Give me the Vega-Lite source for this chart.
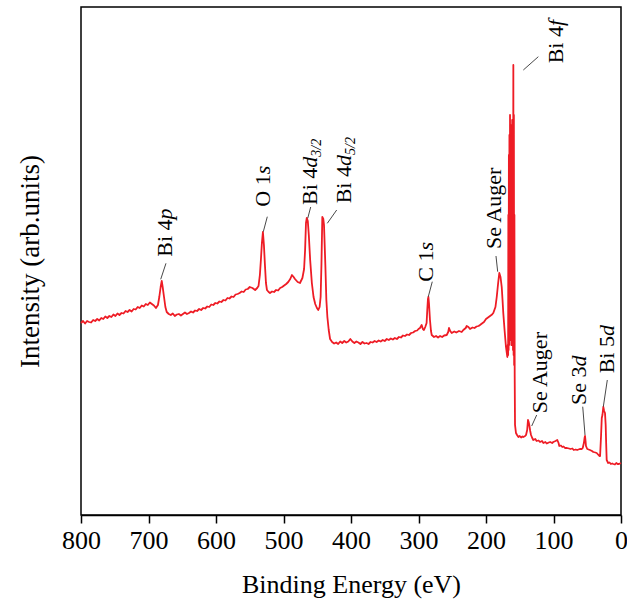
{
  "$schema": "https://vega.github.io/schema/vega-lite/v6.json",
  "width": 540,
  "height": 508,
  "autosize": {"type": "none"},
  "padding": {"left": 81, "top": 7, "right": 6, "bottom": 99},
  "background": "white",
  "config": {
    "view": {"stroke": "black", "strokeWidth": 1.5},
    "font": "Liberation Serif"
  },
  "datasets": {
    "spectrum": [
      {"E": 800, "I": 192}, {"E": 797, "I": 194}, {"E": 794, "I": 191.5}, {"E": 791, "I": 194}, {"E": 788, "I": 193},
      {"E": 785, "I": 192.5}, {"E": 782, "I": 195}, {"E": 779, "I": 194}, {"E": 776, "I": 196}, {"E": 773, "I": 194.5},
      {"E": 770, "I": 197}, {"E": 767, "I": 196}, {"E": 764, "I": 198.5}, {"E": 761, "I": 197}, {"E": 758, "I": 199},
      {"E": 755, "I": 198}, {"E": 752, "I": 200.5}, {"E": 749, "I": 199}, {"E": 746, "I": 201.5}, {"E": 743, "I": 200},
      {"E": 740, "I": 202}, {"E": 737, "I": 201.5}, {"E": 734, "I": 204}, {"E": 731, "I": 203}, {"E": 728, "I": 205},
      {"E": 725, "I": 203.5}, {"E": 722, "I": 206}, {"E": 719, "I": 205.5}, {"E": 716, "I": 208}, {"E": 713, "I": 207},
      {"E": 710, "I": 209.5}, {"E": 707, "I": 208.5}, {"E": 704, "I": 211}, {"E": 701, "I": 210}, {"E": 698, "I": 212.5},
      {"E": 695, "I": 211}, {"E": 692, "I": 209.5}, {"E": 689, "I": 207}, {"E": 686, "I": 210},
      {"E": 684, "I": 218}, {"E": 682, "I": 228}, {"E": 680.4, "I": 234}, {"E": 679, "I": 228}, {"E": 677, "I": 218},
      {"E": 675, "I": 208}, {"E": 673, "I": 203}, {"E": 670, "I": 201}, {"E": 667, "I": 200}, {"E": 664, "I": 201.5},
      {"E": 661, "I": 199}, {"E": 658, "I": 200.5}, {"E": 655, "I": 201}, {"E": 652, "I": 199.5}, {"E": 649, "I": 201},
      {"E": 646, "I": 202.5}, {"E": 643, "I": 201}, {"E": 640, "I": 202}, {"E": 637, "I": 203.5}, {"E": 634, "I": 202.5},
      {"E": 631, "I": 204.5}, {"E": 628, "I": 204}, {"E": 625, "I": 206}, {"E": 622, "I": 205}, {"E": 619, "I": 207},
      {"E": 616, "I": 206.5}, {"E": 613, "I": 208.5}, {"E": 610, "I": 208}, {"E": 607, "I": 210.5}, {"E": 604, "I": 210},
      {"E": 601, "I": 212}, {"E": 598, "I": 211.5}, {"E": 595, "I": 213.5}, {"E": 592, "I": 213}, {"E": 589, "I": 215},
      {"E": 586, "I": 214.5}, {"E": 583, "I": 217}, {"E": 580, "I": 216.5}, {"E": 577, "I": 218.5}, {"E": 574, "I": 218},
      {"E": 571, "I": 220.5}, {"E": 568, "I": 221}, {"E": 565, "I": 222}, {"E": 562, "I": 223.5}, {"E": 559, "I": 223},
      {"E": 556, "I": 225.5}, {"E": 553, "I": 226}, {"E": 550, "I": 228}, {"E": 546, "I": 227}, {"E": 542, "I": 225},
      {"E": 539, "I": 227}, {"E": 537, "I": 229}, {"E": 535, "I": 240}, {"E": 533.5, "I": 255}, {"E": 532, "I": 272},
      {"E": 530.5, "I": 283}, {"E": 529, "I": 270}, {"E": 527.5, "I": 250}, {"E": 526, "I": 232}, {"E": 524.5, "I": 225},
      {"E": 522, "I": 223}, {"E": 520, "I": 222}, {"E": 517, "I": 223.5}, {"E": 514, "I": 223}, {"E": 511, "I": 225},
      {"E": 508, "I": 224.5}, {"E": 505, "I": 227}, {"E": 502, "I": 228}, {"E": 499, "I": 229.5}, {"E": 496, "I": 231},
      {"E": 493, "I": 233}, {"E": 490, "I": 236}, {"E": 487.5, "I": 240}, {"E": 485, "I": 238},
      {"E": 483, "I": 236}, {"E": 479, "I": 233}, {"E": 475.6, "I": 232}, {"E": 472, "I": 237}, {"E": 469.5, "I": 246},
      {"E": 468, "I": 265}, {"E": 466.7, "I": 292}, {"E": 465.5, "I": 297}, {"E": 464, "I": 294}, {"E": 462.5, "I": 280},
      {"E": 460.5, "I": 255}, {"E": 458, "I": 232}, {"E": 455.5, "I": 218}, {"E": 453, "I": 211}, {"E": 450.5, "I": 207},
      {"E": 448.5, "I": 205}, {"E": 446.5, "I": 208}, {"E": 445, "I": 218}, {"E": 443.8, "I": 250}, {"E": 442.5, "I": 298},
      {"E": 441, "I": 296}, {"E": 440, "I": 290}, {"E": 439, "I": 270}, {"E": 438, "I": 250}, {"E": 436.5, "I": 215},
      {"E": 435, "I": 198}, {"E": 433, "I": 185}, {"E": 431, "I": 176}, {"E": 428, "I": 173}, {"E": 425, "I": 171.5},
      {"E": 422, "I": 172.5}, {"E": 419, "I": 171}, {"E": 416, "I": 173.5}, {"E": 413, "I": 172}, {"E": 410, "I": 174},
      {"E": 407, "I": 172.5}, {"E": 404, "I": 173.5}, {"E": 401, "I": 176}, {"E": 398, "I": 173.5}, {"E": 395, "I": 172},
      {"E": 392, "I": 173.5}, {"E": 389, "I": 172.5}, {"E": 386, "I": 171}, {"E": 383, "I": 173}, {"E": 380, "I": 171.5},
      {"E": 377, "I": 172}, {"E": 374, "I": 171}, {"E": 371, "I": 173}, {"E": 368, "I": 172.5}, {"E": 365, "I": 174},
      {"E": 362, "I": 173}, {"E": 359, "I": 174.5}, {"E": 356, "I": 173.5}, {"E": 353, "I": 175}, {"E": 350, "I": 174},
      {"E": 347, "I": 176}, {"E": 344, "I": 175}, {"E": 341, "I": 176.5}, {"E": 338, "I": 175.5}, {"E": 335, "I": 177},
      {"E": 332, "I": 176}, {"E": 329, "I": 178}, {"E": 326, "I": 177.5}, {"E": 323, "I": 179.5}, {"E": 320, "I": 179},
      {"E": 317, "I": 180.5}, {"E": 314, "I": 180}, {"E": 311, "I": 182}, {"E": 308, "I": 182.5}, {"E": 305, "I": 184},
      {"E": 302, "I": 184.5}, {"E": 300, "I": 186}, {"E": 297.8, "I": 187},
      {"E": 295.3, "I": 190}, {"E": 293.5, "I": 186}, {"E": 291.9, "I": 185}, {"E": 290, "I": 188}, {"E": 288, "I": 192},
      {"E": 287, "I": 205}, {"E": 286, "I": 216}, {"E": 285.3, "I": 218}, {"E": 284.5, "I": 212}, {"E": 283, "I": 195},
      {"E": 281.5, "I": 184}, {"E": 280.4, "I": 180}, {"E": 277, "I": 178}, {"E": 274, "I": 179}, {"E": 271, "I": 177.5},
      {"E": 268, "I": 179}, {"E": 265, "I": 178}, {"E": 262, "I": 179.5}, {"E": 258.2, "I": 180}, {"E": 256, "I": 183},
      {"E": 254.8, "I": 187}, {"E": 253, "I": 184},
      {"E": 250.8, "I": 182}, {"E": 247, "I": 183.5}, {"E": 244, "I": 182.5}, {"E": 240, "I": 184}, {"E": 236, "I": 183},
      {"E": 233.6, "I": 185}, {"E": 230, "I": 187}, {"E": 228.6, "I": 189}, {"E": 226, "I": 188}, {"E": 223.7, "I": 186},
      {"E": 220, "I": 187.5}, {"E": 217, "I": 187}, {"E": 214, "I": 188.5}, {"E": 211, "I": 189}, {"E": 208.9, "I": 190},
      {"E": 206, "I": 191.5}, {"E": 203, "I": 193}, {"E": 200, "I": 196}, {"E": 197, "I": 197.5}, {"E": 194, "I": 199},
      {"E": 191, "I": 200.5},
      {"E": 189.2, "I": 202}, {"E": 186, "I": 208}, {"E": 184.1, "I": 218}, {"E": 182, "I": 232}, {"E": 180.3, "I": 242},
      {"E": 178.5, "I": 238}, {"E": 176.7, "I": 228}, {"E": 175.5, "I": 215}, {"E": 174.4, "I": 202}, {"E": 172.5, "I": 185},
      {"E": 170.4, "I": 168}, {"E": 168.4, "I": 158}, {"E": 167.8, "I": 170}, {"E": 167.2, "I": 160}, {"E": 166.9, "I": 300},
      {"E": 166.5, "I": 165}, {"E": 166.1, "I": 360}, {"E": 165.7, "I": 170}, {"E": 165.3, "I": 380}, {"E": 164.9, "I": 175},
      {"E": 164.4, "I": 400}, {"E": 164.0, "I": 180}, {"E": 163.6, "I": 390}, {"E": 163.2, "I": 175}, {"E": 162.8, "I": 385},
      {"E": 162.4, "I": 170}, {"E": 162.0, "I": 390}, {"E": 161.6, "I": 175}, {"E": 161.2, "I": 395}, {"E": 160.8, "I": 170},
      {"E": 160.4, "I": 390}, {"E": 160.0, "I": 165}, {"E": 159.5, "I": 450}, {"E": 159.1, "I": 160}, {"E": 158.7, "I": 400},
      {"E": 158.3, "I": 150}, {"E": 157.9, "I": 300}, {"E": 157.5, "I": 140}, {"E": 157.0, "I": 90}, {"E": 155.6, "I": 82},
      {"E": 154, "I": 80}, {"E": 152, "I": 78}, {"E": 150, "I": 79}, {"E": 148, "I": 77.5}, {"E": 146, "I": 78.5},
      {"E": 144.7, "I": 78}, {"E": 142, "I": 79},
      {"E": 140.7, "I": 80}, {"E": 139, "I": 85}, {"E": 137.8, "I": 95}, {"E": 136.8, "I": 93}, {"E": 135.9, "I": 90},
      {"E": 134.5, "I": 84}, {"E": 133.3, "I": 80}, {"E": 131.5, "I": 77}, {"E": 129.9, "I": 75}, {"E": 127, "I": 76},
      {"E": 125, "I": 74}, {"E": 122, "I": 74.5}, {"E": 120, "I": 73}, {"E": 117, "I": 74}, {"E": 115, "I": 72},
      {"E": 112, "I": 73}, {"E": 110, "I": 71.5}, {"E": 107, "I": 72.5}, {"E": 105, "I": 73}, {"E": 102, "I": 72},
      {"E": 100.3, "I": 73},
      {"E": 97, "I": 74}, {"E": 94.4, "I": 75}, {"E": 92.5, "I": 72}, {"E": 91.4, "I": 69}, {"E": 89, "I": 69.5},
      {"E": 87, "I": 68}, {"E": 85, "I": 68.5},
      {"E": 83, "I": 67}, {"E": 80, "I": 67}, {"E": 77, "I": 66.5}, {"E": 75, "I": 66}, {"E": 72, "I": 66.5},
      {"E": 70, "I": 65}, {"E": 67, "I": 65.5}, {"E": 65, "I": 65},
      {"E": 61, "I": 66}, {"E": 58, "I": 66}, {"E": 56.7, "I": 67}, {"E": 55, "I": 72}, {"E": 54, "I": 77},
      {"E": 53.3, "I": 79}, {"E": 52.5, "I": 74}, {"E": 51.9, "I": 69}, {"E": 50, "I": 66}, {"E": 48, "I": 65.5},
      {"E": 46, "I": 65}, {"E": 43, "I": 64},
      {"E": 41, "I": 63}, {"E": 38, "I": 62.5}, {"E": 36, "I": 62}, {"E": 34, "I": 60.5}, {"E": 32, "I": 59}, {"E": 31, "I": 59}, {"E": 29.5, "I": 80},
      {"E": 28.5, "I": 97}, {"E": 27.5, "I": 100}, {"E": 26.2, "I": 108}, {"E": 25, "I": 104}, {"E": 23.7, "I": 102},
      {"E": 22.7, "I": 90}, {"E": 22, "I": 72}, {"E": 21.2, "I": 55}, {"E": 19, "I": 52}, {"E": 17, "I": 52.5},
      {"E": 15, "I": 51}, {"E": 13, "I": 51.5},
      {"E": 11.4, "I": 51}, {"E": 9, "I": 50.5}, {"E": 7, "I": 52}, {"E": 5, "I": 51}, {"E": 3, "I": 51}, {"E": 0, "I": 52}
    ],
    "leaders": [
      {"E1": 681.9, "I1": 235.7, "E2": 674.1, "I2": 251.7},
      {"E1": 529.9, "I1": 283.3, "E2": 524.0, "I2": 298.3},
      {"E1": 464.1, "I1": 296.7, "E2": 459.7, "I2": 308},
      {"E1": 435.1, "I1": 291.7, "E2": 421.2, "I2": 305},
      {"E1": 285.5, "I1": 218.3, "E2": 279.6, "I2": 233.3},
      {"E1": 182.7, "I1": 243.3, "E2": 185.2, "I2": 259},
      {"E1": 144.7, "I1": 445, "E2": 122.5, "I2": 458.3},
      {"E1": 132.3, "I1": 89, "E2": 124.9, "I2": 100},
      {"E1": 53.3, "I1": 80, "E2": 56.7, "I2": 108.3},
      {"E1": 26.2, "I1": 108.3, "E2": 20.3, "I2": 135}
    ],
    "labelRoman": [
      {"t": "Bi 4", "E": 665.6, "I": 258.3},
      {"t": "O 1", "E": 520, "I": 308.3},
      {"t": "Bi 4", "E": 450.8, "I": 310},
      {"t": "Bi 4", "E": 400, "I": 311.7},
      {"t": "C 1", "E": 278.5, "I": 233.3},
      {"t": "Se Auger", "E": 177.8, "I": 266},
      {"t": "Bi 4", "E": 86.4, "I": 451.7},
      {"t": "Se Auger", "E": 109.6, "I": 101.7},
      {"t": "Se 3", "E": 51.9, "I": 110},
      {"t": "Bi 5", "E": 10.4, "I": 141.7}
    ],
    "labelItalic": [
      {"t": "p", "E": 665.6, "I": 295.6},
      {"t": "s", "E": 520, "I": 340.7},
      {"t": "d", "E": 450.8, "I": 347.3},
      {"t": "d", "E": 400, "I": 349},
      {"t": "s", "E": 278.5, "I": 264.5},
      {"t": "f", "E": 86.4, "I": 489},
      {"t": "d", "E": 51.9, "I": 148.5},
      {"t": "d", "E": 10.4, "I": 179}
    ],
    "labelSub": [
      {"t": "3/2", "E": 444.9, "I": 358.3},
      {"t": "5/2", "E": 394, "I": 360}
    ]
  },
  "layer": [
    {
      "data": {"name": "spectrum"},
      "mark": {"type": "line", "color": "#ee1c25", "strokeWidth": 1.8, "strokeJoin": "round"},
      "encoding": {
        "x": {
          "field": "E", "type": "quantitative",
          "scale": {"domain": [0, 800], "reverse": true, "nice": false, "zero": false},
          "title": "Binding Energy (eV)",
          "axis": {
            "values": [0, 100, 200, 300, 400, 500, 600, 700, 800],
            "grid": false, "domainColor": "black", "domainWidth": 1.5,
            "tickColor": "black", "tickWidth": 1.5, "tickSize": 8,
            "labelFont": "Liberation Serif", "labelFontSize": 26, "labelColor": "black",
            "labelPadding": 4, "labelFlush": false, "labelOverlap": false,
            "titleFont": "Liberation Serif", "titleFontSize": 26, "titleFontWeight": "normal",
            "titleColor": "black", "titlePadding": 18
          }
        },
        "y": {
          "field": "I", "type": "quantitative",
          "scale": {"domain": [0, 508], "nice": false, "zero": false},
          "title": "Intensity (arb.units)",
          "axis": {
            "labels": false, "ticks": false, "domain": false, "grid": false,
            "titleFont": "Liberation Serif", "titleFontSize": 27, "titleFontWeight": "normal",
            "titleColor": "black", "titlePadding": 37
          }
        }
      }
    },
    {
      "data": {"name": "leaders"},
      "mark": {"type": "rule", "color": "#333333", "strokeWidth": 0.9},
      "encoding": {
        "x": {"field": "E1", "type": "quantitative", "title": "Binding Energy (eV)"},
        "y": {"field": "I1", "type": "quantitative", "title": "Intensity (arb.units)"},
        "x2": {"field": "E2"},
        "y2": {"field": "I2"}
      }
    },
    {
      "data": {"name": "labelRoman"},
      "mark": {"type": "text", "angle": 270, "align": "left", "baseline": "alphabetic", "font": "Liberation Serif", "fontSize": 22, "color": "black"},
      "encoding": {
        "x": {"field": "E", "type": "quantitative", "title": "Binding Energy (eV)"},
        "y": {"field": "I", "type": "quantitative", "title": "Intensity (arb.units)"},
        "text": {"field": "t"}
      }
    },
    {
      "data": {"name": "labelItalic"},
      "mark": {"type": "text", "angle": 270, "align": "left", "baseline": "alphabetic", "font": "Liberation Serif", "fontSize": 22, "fontStyle": "italic", "color": "black"},
      "encoding": {
        "x": {"field": "E", "type": "quantitative", "title": "Binding Energy (eV)"},
        "y": {"field": "I", "type": "quantitative", "title": "Intensity (arb.units)"},
        "text": {"field": "t"}
      }
    },
    {
      "data": {"name": "labelSub"},
      "mark": {"type": "text", "angle": 270, "align": "left", "baseline": "alphabetic", "font": "Liberation Serif", "fontSize": 14, "fontStyle": "italic", "color": "black"},
      "encoding": {
        "x": {"field": "E", "type": "quantitative", "title": "Binding Energy (eV)"},
        "y": {"field": "I", "type": "quantitative", "title": "Intensity (arb.units)"},
        "text": {"field": "t"}
      }
    }
  ]
}
